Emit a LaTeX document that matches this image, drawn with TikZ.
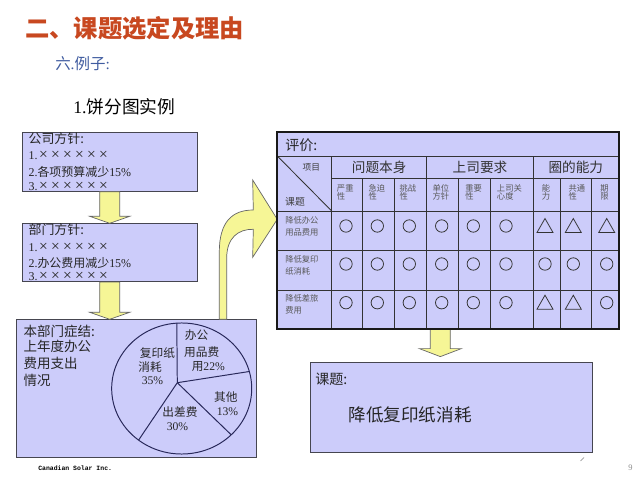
\documentclass[tikz,border=0pt]{standalone}
\usepackage{fontspec}
\setmainfont{Liberation Serif}
\newfontfamily\cjk{Noto Sans CJK SC}
\newfontfamily\footmono{Liberation Mono}
\usetikzlibrary{calc}
\definecolor{lav}{RGB}{204,204,250}
\definecolor{yel}{RGB}{246,246,150}
\definecolor{titlered}{RGB}{200,72,32}
\definecolor{subblue}{RGB}{64,92,160}
\definecolor{bord}{RGB}{70,70,80}
\definecolor{piel}{RGB}{40,40,90}
\newcommand\fsz[1]{\fontsize{#1}{#1}\selectfont}
\newcommand\xx{\makebox[0.3cm]{\fsz{11}×}}
\newcommand\xxs{\xx\xx\xx\xx\xx\xx}
\newcommand\blockdown[5]{%
  \path[yarrow] ($(#1)+(-#3,0)$) -- ($(#2)+(-#3,-#5)$) -- ($(#2)+(-#4,-#5)$) -- (#2)
    -- ($(#2)+(#4,-#5)$) -- ($(#2)+(#3,-#5)$) -- ($(#1)+(#3,0)$) -- cycle;}

\begin{document}
\begin{tikzpicture}[x=0.025cm,y=-0.025cm,
  panel/.style={draw=bord,fill=lav,line width=0.7pt,inner sep=0pt,anchor=north west},
  yarrow/.style={draw=black!60,fill=yel,line width=0.5pt,line join=miter},
  ln/.style={inner sep=0pt,anchor=west,text=black!85},
  boxtxt/.style={ln,font=\fsz{8.5}},
  tblbox/.style={fill=lav,inner sep=0pt,anchor=north west},
  grid/.style={draw=black!80,line width=0.6pt},
  small/.style={inner sep=0pt,anchor=west,text=black!65,font=\cjk\fsz{5.9}},
  markl/.style={draw=black!80,line width=0.55pt},
  pietxt/.style={inner sep=0pt,text=black!85,font=\fsz{8.3}}]

\useasboundingbox (0,0) rectangle (640,480);
\fill[white] (0,0) rectangle (640,480);

% ---------- titles ----------
\node[inner sep=0pt,anchor=west,text=titlered,font=\cjk\bfseries\fsz{17.3}] (title) at (25,28) {二、课题选定及理由};
\node[ln,text=subblue,font=\fsz{11}] (sub) at (55,63.5) {{\cjk 六}.{\cjk 例子}:};
\node[ln,text=black,font=\fsz{12.6}] (head) at (73,107) {1.{\cjk 饼分图实例}};

% ---------- boxes ----------
\node[panel,minimum width=4.375cm,minimum height=1.475cm] (b1) at (21.7,131.7) {};
\node[panel,minimum width=4.375cm,minimum height=1.4425cm] (b2) at (21.7,223.3) {};
\node[panel,minimum width=6cm,minimum height=3.435cm] (b3) at (16,319.3) {};
\node[tblbox,minimum width=8.525cm,minimum height=4.9cm] (tbl) at (277.3,132) {};
\node[panel,minimum width=7.0425cm,minimum height=2.25cm] (b4) at (310,361.7) {};

% box 1 text
\node[ln,font=\cjk\fsz{9.2}] (b1t0) at (28.3,139) {公司方针:};
\node[boxtxt] (b1t1) at (28.3,155.7) {1.\xxs};
\node[boxtxt] (b1t2) at (28.3,171.7) {2.{\cjk 各项预算减少}15\%};
\node[boxtxt] (b1t3) at (28.3,186) {3.\xxs};
% box 2 text
\node[ln,font=\cjk\fsz{9.2}] (b2t0) at (28.3,230) {部门方针:};
\node[boxtxt] (b2t1) at (28.3,247.7) {1.\xxs};
\node[boxtxt] (b2t2) at (28.3,262.7) {2.{\cjk 办公费用减少}15\%};
\node[boxtxt] (b2t3) at (28.3,276) {3.\xxs};
% box 3 text
\node[ln,font=\cjk\fsz{9.6}] (b3t0) at (23.3,331.7) {本部门症结:};
\node[ln,font=\cjk\fsz{9.6}] (b3t1) at (23.3,346.7) {上年度办公};
\node[ln,font=\cjk\fsz{9.6}] (b3t2) at (23.3,363) {费用支出};
\node[ln,font=\cjk\fsz{9.6}] (b3t3) at (23.3,380) {情况};

% ---------- pie ----------
\coordinate (pc) at (177.3,382.7);
\draw[piel,line width=0.7pt] (181.7,388.5) ellipse[x radius=1.75cm,y radius=1.6375cm];
\coordinate (p1) at (176.8,323.2);
\coordinate (p2) at (249.3,371.5);
\coordinate (p3) at (231.2,434.8);
\coordinate (p4) at (138.6,440.1);
\foreach \p in {p1,p2,p3,p4} \draw[piel,line width=0.7pt] (pc) -- (\p);
\node[pietxt] (pl1) at (196.5,335) {\cjk 办公};
\node[pietxt] (pl2) at (201.7,351.7) {\cjk 用品费};
\node[pietxt] (pl3) at (208.3,366.7) {{\cjk 用}22\%};
\node[pietxt] (pl4) at (157.5,352.7) {\cjk 复印纸};
\node[pietxt] (pl5) at (150,367.3) {\cjk 消耗};
\node[pietxt] (pl6) at (152.5,381) {35\%};
\node[pietxt] (pl7) at (225.8,397.3) {\cjk 其他};
\node[pietxt] (pl8) at (227.5,411.7) {13\%};
\node[pietxt] (pl9) at (180,411.7) {\cjk 出差费};
\node[pietxt] (pl10) at (177.5,426.7) {30\%};

% ---------- straight block arrows ----------
\coordinate (a1tip) at (b1.south |- b2.north);
\blockdown{b1.south}{a1tip}{10}{20}{7}
\coordinate (a2tip) at (b2.south |- b3.north);
\blockdown{b2.south}{a2tip}{10}{20}{7}
\coordinate (a3top) at ($(tbl.south)+(-7.8,0)$);
\coordinate (a3tip) at ($(tbl.south)+(-7.8,28)$);
\blockdown{a3top}{a3tip}{10}{21}{8}

% ---------- curved arrow ----------
\coordinate (cbase) at ($(b3.north west)+(203.3,0)$);
\coordinate (ctip) at ($(tbl.north west)+(0,87.3)$);
\path[yarrow] (cbase) -- (219.3,252) .. controls (219.3,222) and (232,210) .. (253.3,210)
  -- (252.7,180) -- (ctip) -- (252.7,257.3) -- (253.3,229.3)
  .. controls (238,229) and (226.7,238) .. (226.7,258) -- ($(cbase)+(7.4,0)$) -- cycle;

% ---------- table grid ----------
\draw[grid] (277.3,156) -- (618.3,156);
\draw[grid] (331.7,178) -- (618.3,178);
\foreach \y in {211,250,290} \draw[grid] (277.3,\y) -- (618.3,\y);
\foreach \x in {331.7,426.7,533.3} \draw[grid] (\x,156) -- (\x,328);
\foreach \x in {362.7,394.3,458.3,490,560,591.7} \draw[grid] (\x,178) -- (\x,328);
\draw[grid] (277.3,156) -- (331.7,211);
\draw[black!90,line width=1.4pt] (tbl.north west) rectangle (tbl.south east);

% table texts
\node[ln,font=\cjk\fsz{10}] (eval) at (285,145) {评价:};
\node[inner sep=0pt,text=black!80,font=\cjk\fsz{9.7}] (g1) at (379.2,167.5) {问题本身};
\node[inner sep=0pt,text=black!80,font=\cjk\fsz{9.7}] (g2) at (480,167.5) {上司要求};
\node[inner sep=0pt,text=black!80,font=\cjk\fsz{9.7}] (g3) at (575.8,167.5) {圈的能力};
\node[inner sep=0pt,text=black!75,font=\cjk\fsz{6.2}] (xm) at (311.3,167.7) {项目};
\node[inner sep=0pt,text=black!75,font=\cjk\fsz{7}] (kt) at (295,201.7) {课题};
\foreach \x/\a/\b [count=\i] in {336.7/严重/性,368.3/急迫/性,399.3/挑战/性,432.3/单位/方针,465/重要/性,496.7/上司关/心度,541.7/能/力,568.3/共通/性,600/期/限}{
  \node[small] (sha\i) at (\x,188.3) {\a};
  \node[small] (shb\i) at (\x,196.7) {\b};
}
\foreach \y/\a/\b [count=\i] in {220/降低办公/用品费用,259.3/降低复印/纸消耗,298.3/降低差旅/费用}{
  \node[small] (rla\i) at (285,\y) {\a};
  \node[small] (rlb\i) at (285,\y+12) {\b};
}

% marks
\foreach \x in {346,377.3,409.3,441.7,473.3,506} {
  \draw[markl] (\x,226) circle[radius=0.155cm];
  \draw[markl] (\x,302.7) circle[radius=0.155cm];
}
\foreach \x in {346,377.3,409.3,441.7,473.3,506,545,573.3,606.7}
  \draw[markl] (\x,264) circle[radius=0.155cm];
\draw[markl] (606.7,302.7) circle[radius=0.155cm];
\foreach \x/\y in {545/226,573.3/226,606.7/226,545/302.7,573.3/302.7}
  \draw[markl,shift={(\x,\y)}] (0,-7.5) -- (8,6.5) -- (-8,6.5) -- cycle;

% result box text
\node[ln,font=\cjk\fsz{10}] (kt2) at (315,379.3) {课题:};
\node[ln,font=\cjk\fsz{12.5}] (res) at (348.3,415) {降低复印纸消耗};

% footer
\node[ln,text=black,font=\footmono\bfseries\fsz{4.6}] (foot) at (38,468) {Canadian Solar Inc.};
\node[ln,text=black!45,font=\fsz{6}] (pg) at (628,468) {9};
\draw[black!50,line width=0.4pt] (580.5,461) -- (584,457.5);
\end{tikzpicture}
\end{document}
